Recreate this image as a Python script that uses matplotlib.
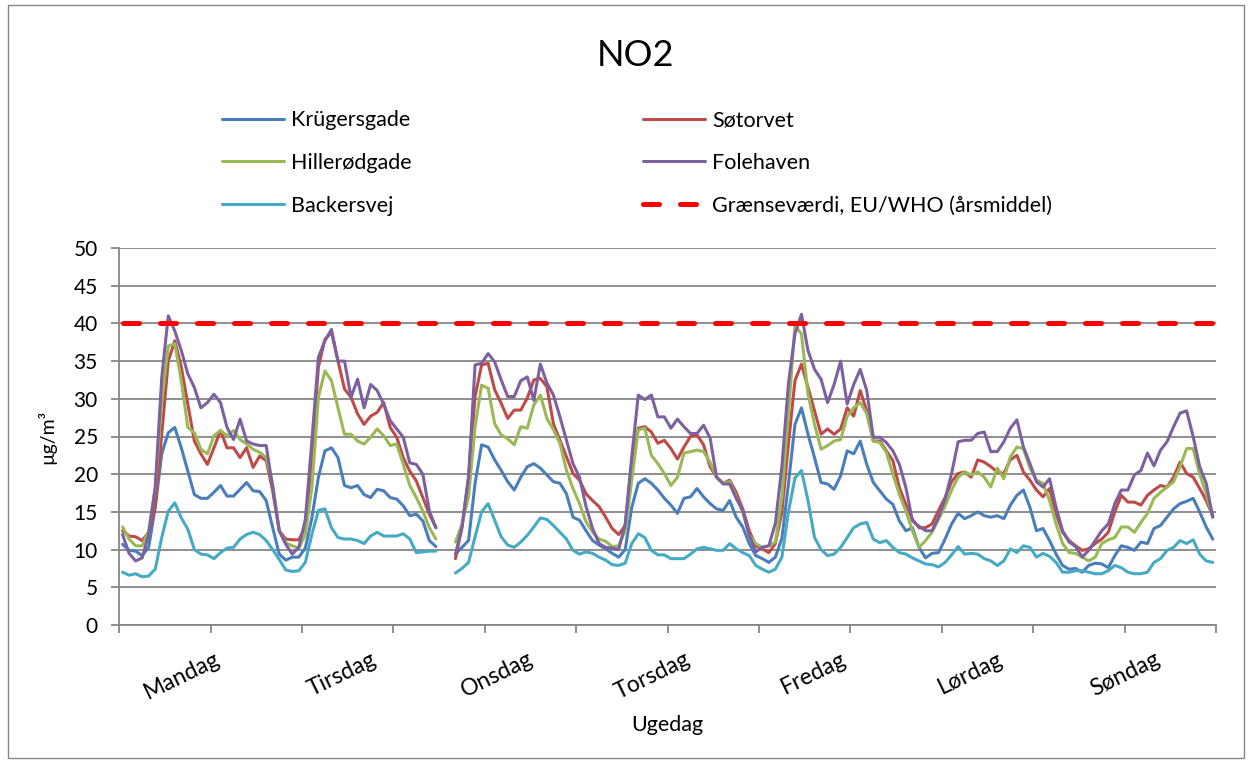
import numpy as np
import matplotlib
matplotlib.use('Agg')
import matplotlib.pyplot as plt
from matplotlib.patches import Rectangle

nan = np.nan

days = ['Mandag', 'Tirsdag', 'Onsdag', 'Torsdag', 'Fredag', 'Lørdag', 'Søndag']
y_ticks = [0, 5, 10, 15, 20, 25, 30, 35, 40, 45, 50]

# hourly means, Monday 00 .. Sunday 23 (nan = missing)
krugersgade = [
    10.7, 9.9, 9.8, 9.2, 10.3, 15.6, 22.7, 25.5, 26.2, 23.5, 20.4, 17.3, 16.8, 16.8, 17.6, 18.5, 17.1, 17.1, 18.0, 18.9, 17.8, 17.7, 16.5, 12.9,
    9.4, 8.6, 9.0, 9.0, 10.2, 14.2, 19.6, 23.1, 23.5, 22.2, 18.5, 18.2, 18.5, 17.3, 16.9, 18.0, 17.8, 16.9, 16.7, 15.8, 14.5, 14.7, 13.8, 11.2,
    10.4, nan, nan, 9.4, 10.3, 11.2, 18.8, 23.9, 23.6, 21.9, 20.5, 19.0, 17.9, 19.6, 21.0, 21.4, 20.8, 19.9, 19.0, 18.8, 17.4, 14.3, 13.9, 12.5,
    11.2, 10.6, 10.1, 9.5, 9.0, 10.0, 15.6, 18.8, 19.4, 18.8, 17.9, 16.8, 15.9, 14.8, 16.8, 17.0, 18.1, 17.0, 16.1, 15.4, 15.2, 16.5, 14.3, 13.0,
    10.8, 9.2, 8.8, 8.3, 9.0, 11.5, 18.7, 26.6, 28.8, 25.3, 22.2, 18.9, 18.7, 18.0, 19.8, 23.1, 22.7, 24.4, 21.3, 18.9, 17.8, 16.7, 16.0, 13.8,
    12.5, 12.9, 10.3, 8.9, 9.5, 9.6, 11.4, 13.4, 14.8, 14.1, 14.5, 15.0, 14.5, 14.3, 14.5, 14.1, 15.9, 17.2, 17.9, 15.6, 12.5, 12.8, 11.2, 9.4,
    7.9, 7.4, 7.5, 7.0, 7.9, 8.2, 8.1, 7.6, 9.2, 10.5, 10.3, 9.9, 11.0, 10.8, 12.8, 13.2, 14.3, 15.4, 16.1, 16.4, 16.8, 15.0, 13.0, 11.4,
]
sotorvet = [
    12.5, 11.8, 11.7, 11.2, 12.3, 15.6, 25.3, 35.0, 37.7, 34.2, 29.3, 24.4, 22.7, 21.3, 23.5, 25.8, 23.5, 23.5, 22.2, 23.5, 20.9, 22.4, 21.8, 17.8,
    12.5, 11.4, 11.3, 11.3, 13.0, 22.2, 34.2, 37.9, 38.8, 35.0, 31.3, 30.2, 28.0, 26.6, 27.7, 28.2, 29.5, 26.2, 24.9, 22.2, 20.4, 19.1, 16.9, 14.7,
    12.9, nan, nan, 8.8, 13.0, 19.6, 30.3, 34.5, 34.7, 31.2, 29.4, 27.4, 28.5, 28.5, 30.1, 32.5, 32.7, 31.6, 26.7, 24.5, 22.3, 20.1, 19.2, 17.4,
    16.5, 15.7, 14.3, 12.8, 12.0, 13.2, 21.4, 26.1, 26.3, 25.6, 24.1, 24.5, 23.4, 22.0, 23.6, 25.0, 25.2, 23.9, 21.0, 19.6, 18.8, 19.2, 17.6, 15.4,
    12.5, 10.5, 10.1, 9.6, 10.8, 15.0, 24.0, 32.4, 34.6, 31.5, 28.4, 25.3, 26.0, 25.3, 26.0, 28.8, 27.7, 31.1, 28.4, 24.4, 24.4, 23.1, 21.8, 18.2,
    16.0, 14.0, 12.9, 12.9, 13.4, 15.2, 16.9, 19.0, 20.1, 20.3, 19.6, 21.9, 21.6, 21.0, 20.3, 20.1, 21.9, 22.5, 20.3, 19.2, 17.9, 17.0, 18.1, 14.8,
    12.3, 11.2, 10.5, 9.9, 10.1, 10.8, 11.4, 12.3, 15.0, 17.2, 16.3, 16.3, 15.9, 17.2, 17.9, 18.5, 18.3, 19.6, 21.6, 20.1, 19.6, 18.1, 16.5, 14.5,
]
hillerodgade = [
    13.0, 11.4, 10.5, 10.5, 12.5, 18.2, 29.7, 37.0, 37.3, 32.4, 26.2, 25.5, 23.3, 22.7, 25.1, 25.8, 25.1, 25.8, 24.6, 24.0, 23.3, 22.9, 22.2, 18.7,
    12.5, 10.9, 10.5, 10.2, 12.0, 18.2, 30.2, 33.7, 32.4, 28.8, 25.3, 25.3, 24.4, 24.0, 24.9, 26.0, 25.1, 23.8, 24.0, 21.3, 18.5, 16.9, 15.1, 12.9,
    11.4, nan, nan, 11.0, 13.4, 17.0, 26.3, 31.8, 31.4, 26.7, 25.2, 24.7, 23.9, 26.3, 26.1, 29.2, 30.5, 27.4, 25.9, 24.1, 20.5, 18.1, 16.1, 13.7,
    12.3, 11.4, 11.1, 10.4, 10.5, 12.5, 19.2, 25.9, 26.1, 22.5, 21.4, 20.1, 18.5, 19.6, 22.8, 23.0, 23.2, 23.0, 21.6, 19.6, 18.8, 19.0, 17.0, 15.0,
    11.9, 10.8, 10.3, 10.5, 11.0, 17.0, 28.0, 39.7, 38.6, 30.6, 26.6, 23.3, 23.8, 24.4, 24.6, 27.7, 28.8, 29.5, 28.0, 24.4, 24.2, 22.9, 20.0, 17.3,
    15.1, 12.5, 10.3, 11.2, 12.3, 14.0, 15.8, 17.9, 19.6, 20.3, 19.9, 20.3, 19.6, 18.3, 20.8, 19.4, 22.3, 23.6, 23.4, 20.8, 19.2, 18.8, 16.5, 13.4,
    10.8, 9.6, 9.5, 9.0, 8.5, 9.0, 10.8, 11.3, 11.6, 13.0, 13.0, 12.3, 13.6, 14.8, 16.8, 17.6, 18.3, 19.0, 21.0, 23.4, 23.4, 20.0, 17.4, 14.3,
]
folehaven = [
    12.0, 9.5, 8.5, 8.9, 12.0, 18.2, 32.8, 41.0, 39.0, 36.4, 33.3, 31.5, 28.8, 29.5, 30.6, 29.5, 26.2, 24.6, 27.3, 24.4, 24.0, 23.8, 23.8, 18.2,
    12.5, 10.7, 9.4, 10.3, 14.0, 24.4, 35.5, 37.7, 39.2, 35.0, 35.0, 30.2, 32.6, 28.8, 31.9, 31.1, 29.3, 27.1, 26.0, 24.9, 21.5, 21.3, 20.0, 15.1,
    12.9, nan, nan, 9.4, 13.0, 19.6, 34.5, 34.7, 36.0, 34.9, 32.5, 30.3, 30.3, 32.4, 32.9, 29.8, 34.6, 32.1, 30.5, 27.6, 24.5, 21.4, 19.6, 15.7,
    12.8, 10.8, 10.3, 10.2, 10.0, 13.4, 22.3, 30.5, 29.9, 30.5, 27.6, 27.6, 26.1, 27.3, 26.3, 25.4, 25.4, 26.5, 24.8, 19.6, 18.7, 18.7, 16.8, 15.2,
    11.9, 9.7, 10.3, 10.5, 13.5, 21.0, 32.0, 38.6, 41.2, 36.4, 33.9, 32.6, 29.5, 31.9, 35.0, 29.3, 31.9, 33.9, 31.1, 24.9, 24.9, 24.2, 23.1, 21.3,
    18.2, 13.8, 13.1, 12.5, 12.5, 14.3, 16.7, 20.1, 24.3, 24.5, 24.5, 25.4, 25.6, 23.0, 23.0, 24.3, 26.1, 27.2, 23.6, 21.4, 19.0, 18.3, 19.4, 15.6,
    12.5, 11.0, 10.4, 9.0, 9.9, 11.2, 12.5, 13.4, 16.1, 17.9, 17.9, 19.9, 20.5, 22.8, 21.1, 23.2, 24.3, 26.3, 28.1, 28.4, 25.0, 21.0, 18.8, 14.3,
]
backersvej = [
    7.0, 6.6, 6.8, 6.4, 6.5, 7.4, 11.6, 15.1, 16.2, 14.2, 12.7, 10.0, 9.4, 9.3, 8.8, 9.6, 10.2, 10.3, 11.4, 12.0, 12.3, 12.0, 11.2, 10.0,
    8.7, 7.3, 7.1, 7.2, 8.3, 12.0, 15.2, 15.4, 12.9, 11.6, 11.4, 11.4, 11.2, 10.8, 11.8, 12.3, 11.8, 11.8, 11.8, 12.1, 11.4, 9.6, 9.7, 9.8,
    9.8, nan, nan, 6.9, 7.5, 8.3, 11.7, 15.0, 16.1, 13.9, 11.7, 10.6, 10.3, 11.0, 11.9, 13.0, 14.2, 14.0, 13.2, 12.3, 11.4, 9.9, 9.4, 9.7,
    9.5, 9.0, 8.6, 8.0, 7.9, 8.2, 10.8, 12.1, 11.6, 9.9, 9.3, 9.3, 8.8, 8.8, 8.8, 9.4, 10.1, 10.3, 10.1, 9.9, 9.9, 10.8, 10.1, 9.6,
    9.2, 7.9, 7.4, 7.0, 7.4, 9.0, 15.0, 19.5, 20.5, 16.5, 11.6, 10.0, 9.2, 9.4, 10.3, 11.6, 12.9, 13.4, 13.6, 11.4, 10.9, 11.2, 10.3, 9.6,
    9.4, 8.9, 8.5, 8.1, 8.0, 7.7, 8.3, 9.3, 10.4, 9.4, 9.5, 9.4, 8.8, 8.5, 7.9, 8.5, 10.1, 9.6, 10.5, 10.3, 9.0, 9.5, 9.1, 8.3,
    7.0, 7.0, 7.2, 7.2, 7.0, 6.8, 6.8, 7.2, 7.9, 7.6, 7.0, 6.8, 6.8, 7.0, 8.3, 8.8, 9.9, 10.3, 11.2, 10.8, 11.3, 9.4, 8.5, 8.3,
]
limit_value = 40

series = [
    ('Krügersgade', krugersgade, '#4A7EBB'),
    ('Søtorvet', sotorvet, '#BE4B48'),
    ('Hillerødgade', hillerodgade, '#98B954'),
    ('Folehaven', folehaven, '#7D60A0'),
    ('Backersvej', backersvej, '#46AAC5'),
]

plt.rcParams['font.family'] = ['Lato', 'DejaVu Sans']

W, H = 1252, 762
fig = plt.figure(figsize=(W / 100, H / 100), dpi=100)
fig.patch.set_facecolor('white')

ax_l, ax_r, ax_t, ax_b = 119.3, 1216.0, 248.0, 625.0
ax = fig.add_axes([ax_l / W, 1 - ax_b / H, (ax_r - ax_l) / W, (ax_b - ax_t) / H])

n = len(krugersgade)
x = np.arange(n) + 0.5

handles = {}
for name, vals, col in series:
    h, = ax.plot(x, np.array(vals, dtype=float), color=col, lw=2.2,
                 solid_joinstyle='round', solid_capstyle='round', label=name)
    handles[name] = h
lim_name = 'Grænseværdi, EU/WHO (årsmiddel)'
h, = ax.plot(x, np.full(n, limit_value, dtype=float), color='#FF0000', lw=3.6,
             dashes=(3.2, 4.2), dash_capstyle='round', label=lim_name)
handles[lim_name] = h

ax.set_xlim(0, n)
ax.set_ylim(0, 50)
ax.set_yticks(y_ticks)
ax.set_xticks(np.arange(0, n + 1, 14))
ax.set_xticklabels([])
ax.set_xticks(np.arange(len(days)) * 24 + 14.5, minor=True)
ax.set_xticklabels(days, minor=True)

gray = '#868686'
ax.grid(axis='y', color=gray, lw=1.3)
ax.set_axisbelow(True)
for s in ['top', 'right']:
    ax.spines[s].set_visible(False)
for s in ['left', 'bottom']:
    ax.spines[s].set_color(gray)
    ax.spines[s].set_linewidth(1.3)

ax.tick_params(axis='y', which='major', length=5.5, width=1.3, color=gray,
               pad=10, labelsize=15, labelcolor='black')
ax.tick_params(axis='x', which='major', length=6, width=1.3, color=gray)
ax.tick_params(axis='x', which='minor', length=0, pad=17, labelsize=16.5)
for lbl in ax.get_xticklabels(minor=True):
    lbl.set_rotation(26)
    lbl.set_ha('right')
    lbl.set_va('top')
    lbl.set_rotation_mode('anchor')

ax.set_ylabel('µg/m³', fontsize=14)
ax.yaxis.set_label_coords((56 - ax_l) / (ax_r - ax_l), 0.5)
ax.set_xlabel('Ugedag', fontsize=15.5)
ax.xaxis.set_label_coords((667 - ax_l) / (ax_r - ax_l), (ax_b - 715) / (ax_b - ax_t))

fig.text(635 / W, 1 - 55 / H, 'NO2', fontsize=26, ha='center', va='center')

leg_kw = dict(loc='center left', frameon=False, fontsize=15.5, handlelength=2.9,
              handletextpad=0.3, labelspacing=1.05, borderpad=0, borderaxespad=0)
col1 = ['Krügersgade', 'Hillerødgade', 'Backersvej']
col2 = ['Søtorvet', 'Folehaven', lim_name]
fig.legend([handles[k] for k in col1], col1, bbox_to_anchor=(222 / W, 1 - 163 / H), **leg_kw)
fig.legend([handles[k] for k in col2], col2, bbox_to_anchor=(643 / W, 1 - 163 / H), **leg_kw)

fig.patches.append(Rectangle((7.5 / W, 4 / H), (1244 - 7.5) / W, (757 - 4) / H,
                             transform=fig.transFigure, fill=False, ec=gray, lw=1))

fig.savefig('out.png', dpi=100, facecolor='white')
